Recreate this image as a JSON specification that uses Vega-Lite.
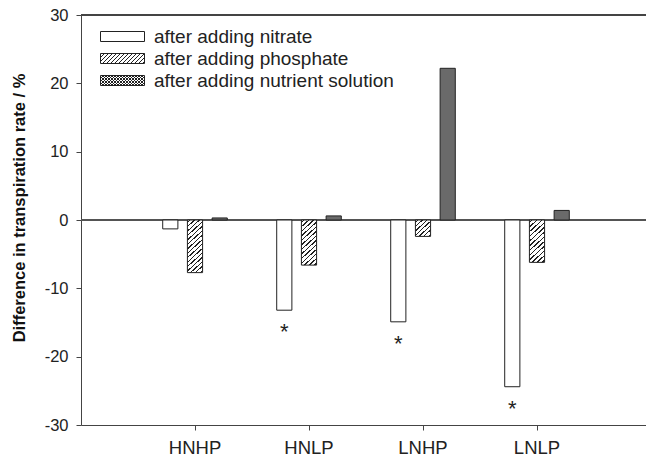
{
  "$schema": "https://vega.github.io/schema/vega-lite/v6.json",
  "width": 565,
  "height": 410,
  "autosize": {"type": "none"},
  "padding": {"left": 81, "top": 15, "right": 0, "bottom": 35},
  "background": "white",
  "config": {"font": "Liberation Sans", "view": {"stroke": null}},
  "data": {
    "values": [
      {"group": "HNHP", "treatment": "after adding nitrate", "value": -1.3, "sig": ""},
      {"group": "HNHP", "treatment": "after adding phosphate", "value": -7.7, "sig": ""},
      {"group": "HNHP", "treatment": "after adding nutrient solution", "value": 0.3, "sig": ""},
      {"group": "HNLP", "treatment": "after adding nitrate", "value": -13.2, "sig": "*"},
      {"group": "HNLP", "treatment": "after adding phosphate", "value": -6.6, "sig": ""},
      {"group": "HNLP", "treatment": "after adding nutrient solution", "value": 0.6, "sig": ""},
      {"group": "LNHP", "treatment": "after adding nitrate", "value": -14.9, "sig": "*"},
      {"group": "LNHP", "treatment": "after adding phosphate", "value": -2.4, "sig": ""},
      {"group": "LNHP", "treatment": "after adding nutrient solution", "value": 22.2, "sig": ""},
      {"group": "LNLP", "treatment": "after adding nitrate", "value": -24.4, "sig": "*"},
      {"group": "LNLP", "treatment": "after adding phosphate", "value": -6.2, "sig": ""},
      {"group": "LNLP", "treatment": "after adding nutrient solution", "value": 1.4, "sig": ""}
    ]
  },
  "layer": [
    {
      "mark": {"type": "rule", "color": "#555", "strokeWidth": 1},
      "encoding": {"y": {"datum": 0, "type": "quantitative"}}
    },
    {
      "mark": {"type": "rule", "color": "#444", "strokeWidth": 1},
      "encoding": {"y": {"datum": 30, "type": "quantitative"}}
    },
    {
      "mark": {"type": "bar", "stroke": "#222", "strokeWidth": 1},
      "encoding": {
        "x": {
          "field": "group", "type": "nominal",
          "sort": ["HNHP", "HNLP", "LNHP", "LNLP"],
          "scale": {"range": [0, 570], "paddingInner": 0, "paddingOuter": 0.5},
          "axis": {"title": null, "labelAngle": 0, "labelFontSize": 18.5, "labelColor": "#222", "labelPadding": 8, "tickSize": 5, "tickColor": "#444", "domainColor": "#444"}
        },
        "xOffset": {
          "field": "treatment", "type": "nominal",
          "sort": ["after adding nitrate", "after adding phosphate", "after adding nutrient solution"],
          "scale": {"paddingInner": 0.386, "paddingOuter": 1.193}
        },
        "y": {
          "field": "value", "type": "quantitative",
          "scale": {"domain": [-30, 30], "nice": false},
          "axis": {
            "values": [-30, -20, -10, 0, 10, 20, 30], "grid": false,
            "labelExpr": "'' + datum.value",
            "tickSize": 5, "tickColor": "#444", "domainColor": "#444",
            "labelFontSize": 16.5, "labelColor": "#222", "labelPadding": 8,
            "title": "Difference in transpiration rate / %",
            "titleFontSize": 16.5, "titleFontWeight": "bold", "titleColor": "#111",
            "titleX": -61.5, "titleY": 192.5, "titleAngle": -90, "titleBaseline": "middle", "titleAlign": "center"
          }
        },
        "fill": {
          "condition": [
            {"test": "datum.treatment == 'after adding nitrate'", "value": "#ffffff"},
            {"test": "datum.treatment == 'after adding nutrient solution'", "value": "#6a6a6a"},
            {"test": "datum.group == 'HNHP'", "value": {"gradient": "linear", "x1": 0, "y1": 0, "x2": 0.3146, "y2": 1.1824, "stops": [
              {"offset": 0.02333, "color": "#fff"}, {"offset": 0.02333, "color": "#222"}, {"offset": 0.04333, "color": "#222"}, {"offset": 0.04333, "color": "#fff"},
              {"offset": 0.09, "color": "#fff"}, {"offset": 0.09, "color": "#222"}, {"offset": 0.11, "color": "#222"}, {"offset": 0.11, "color": "#fff"},
              {"offset": 0.15667, "color": "#fff"}, {"offset": 0.15667, "color": "#222"}, {"offset": 0.17667, "color": "#222"}, {"offset": 0.17667, "color": "#fff"},
              {"offset": 0.22333, "color": "#fff"}, {"offset": 0.22333, "color": "#222"}, {"offset": 0.24333, "color": "#222"}, {"offset": 0.24333, "color": "#fff"},
              {"offset": 0.29, "color": "#fff"}, {"offset": 0.29, "color": "#222"}, {"offset": 0.31, "color": "#222"}, {"offset": 0.31, "color": "#fff"},
              {"offset": 0.35667, "color": "#fff"}, {"offset": 0.35667, "color": "#222"}, {"offset": 0.37667, "color": "#222"}, {"offset": 0.37667, "color": "#fff"},
              {"offset": 0.42333, "color": "#fff"}, {"offset": 0.42333, "color": "#222"}, {"offset": 0.44333, "color": "#222"}, {"offset": 0.44333, "color": "#fff"},
              {"offset": 0.49, "color": "#fff"}, {"offset": 0.49, "color": "#222"}, {"offset": 0.51, "color": "#222"}, {"offset": 0.51, "color": "#fff"},
              {"offset": 0.55667, "color": "#fff"}, {"offset": 0.55667, "color": "#222"}, {"offset": 0.57667, "color": "#222"}, {"offset": 0.57667, "color": "#fff"},
              {"offset": 0.62333, "color": "#fff"}, {"offset": 0.62333, "color": "#222"}, {"offset": 0.64333, "color": "#222"}, {"offset": 0.64333, "color": "#fff"},
              {"offset": 0.69, "color": "#fff"}, {"offset": 0.69, "color": "#222"}, {"offset": 0.71, "color": "#222"}, {"offset": 0.71, "color": "#fff"},
              {"offset": 0.75667, "color": "#fff"}, {"offset": 0.75667, "color": "#222"}, {"offset": 0.77667, "color": "#222"}, {"offset": 0.77667, "color": "#fff"},
              {"offset": 0.82333, "color": "#fff"}, {"offset": 0.82333, "color": "#222"}, {"offset": 0.84333, "color": "#222"}, {"offset": 0.84333, "color": "#fff"},
              {"offset": 0.89, "color": "#fff"}, {"offset": 0.89, "color": "#222"}, {"offset": 0.91, "color": "#222"}, {"offset": 0.91, "color": "#fff"},
              {"offset": 0.95667, "color": "#fff"}, {"offset": 0.95667, "color": "#222"}, {"offset": 0.97667, "color": "#222"}, {"offset": 0.97667, "color": "#fff"}
            ]}},
            {"test": "datum.group == 'HNLP'", "value": {"gradient": "linear", "x1": 0, "y1": 0, "x2": 0.371, "y2": 1.1952, "stops": [
              {"offset": 0.02692, "color": "#fff"}, {"offset": 0.02692, "color": "#222"}, {"offset": 0.05, "color": "#222"}, {"offset": 0.05, "color": "#fff"},
              {"offset": 0.10385, "color": "#fff"}, {"offset": 0.10385, "color": "#222"}, {"offset": 0.12692, "color": "#222"}, {"offset": 0.12692, "color": "#fff"},
              {"offset": 0.18077, "color": "#fff"}, {"offset": 0.18077, "color": "#222"}, {"offset": 0.20385, "color": "#222"}, {"offset": 0.20385, "color": "#fff"},
              {"offset": 0.25769, "color": "#fff"}, {"offset": 0.25769, "color": "#222"}, {"offset": 0.28077, "color": "#222"}, {"offset": 0.28077, "color": "#fff"},
              {"offset": 0.33462, "color": "#fff"}, {"offset": 0.33462, "color": "#222"}, {"offset": 0.35769, "color": "#222"}, {"offset": 0.35769, "color": "#fff"},
              {"offset": 0.41154, "color": "#fff"}, {"offset": 0.41154, "color": "#222"}, {"offset": 0.43462, "color": "#222"}, {"offset": 0.43462, "color": "#fff"},
              {"offset": 0.48846, "color": "#fff"}, {"offset": 0.48846, "color": "#222"}, {"offset": 0.51154, "color": "#222"}, {"offset": 0.51154, "color": "#fff"},
              {"offset": 0.56538, "color": "#fff"}, {"offset": 0.56538, "color": "#222"}, {"offset": 0.58846, "color": "#222"}, {"offset": 0.58846, "color": "#fff"},
              {"offset": 0.64231, "color": "#fff"}, {"offset": 0.64231, "color": "#222"}, {"offset": 0.66538, "color": "#222"}, {"offset": 0.66538, "color": "#fff"},
              {"offset": 0.71923, "color": "#fff"}, {"offset": 0.71923, "color": "#222"}, {"offset": 0.74231, "color": "#222"}, {"offset": 0.74231, "color": "#fff"},
              {"offset": 0.79615, "color": "#fff"}, {"offset": 0.79615, "color": "#222"}, {"offset": 0.81923, "color": "#222"}, {"offset": 0.81923, "color": "#fff"},
              {"offset": 0.87308, "color": "#fff"}, {"offset": 0.87308, "color": "#222"}, {"offset": 0.89615, "color": "#222"}, {"offset": 0.89615, "color": "#fff"},
              {"offset": 0.95, "color": "#fff"}, {"offset": 0.95, "color": "#222"}, {"offset": 0.97308, "color": "#222"}, {"offset": 0.97308, "color": "#fff"}
            ]}},
            {"test": "datum.group == 'LNHP'", "value": {"gradient": "linear", "x1": 0, "y1": 0, "x2": 0.9153, "y2": 1.0723, "stops": [
              {"offset": 0.05, "color": "#fff"}, {"offset": 0.05, "color": "#222"}, {"offset": 0.09286, "color": "#222"}, {"offset": 0.09286, "color": "#fff"},
              {"offset": 0.19286, "color": "#fff"}, {"offset": 0.19286, "color": "#222"}, {"offset": 0.23571, "color": "#222"}, {"offset": 0.23571, "color": "#fff"},
              {"offset": 0.33571, "color": "#fff"}, {"offset": 0.33571, "color": "#222"}, {"offset": 0.37857, "color": "#222"}, {"offset": 0.37857, "color": "#fff"},
              {"offset": 0.47857, "color": "#fff"}, {"offset": 0.47857, "color": "#222"}, {"offset": 0.52143, "color": "#222"}, {"offset": 0.52143, "color": "#fff"},
              {"offset": 0.62143, "color": "#fff"}, {"offset": 0.62143, "color": "#222"}, {"offset": 0.66429, "color": "#222"}, {"offset": 0.66429, "color": "#fff"},
              {"offset": 0.76429, "color": "#fff"}, {"offset": 0.76429, "color": "#222"}, {"offset": 0.80714, "color": "#222"}, {"offset": 0.80714, "color": "#fff"},
              {"offset": 0.90714, "color": "#fff"}, {"offset": 0.90714, "color": "#222"}, {"offset": 0.95, "color": "#222"}, {"offset": 0.95, "color": "#fff"}
            ]}}
          ],
          "value": {"gradient": "linear", "x1": 0, "y1": 0, "x2": 0.3963, "y2": 1.1995, "stops": [
            {"offset": 0.02917, "color": "#fff"}, {"offset": 0.02917, "color": "#222"}, {"offset": 0.05417, "color": "#222"}, {"offset": 0.05417, "color": "#fff"},
            {"offset": 0.1125, "color": "#fff"}, {"offset": 0.1125, "color": "#222"}, {"offset": 0.1375, "color": "#222"}, {"offset": 0.1375, "color": "#fff"},
            {"offset": 0.19583, "color": "#fff"}, {"offset": 0.19583, "color": "#222"}, {"offset": 0.22083, "color": "#222"}, {"offset": 0.22083, "color": "#fff"},
            {"offset": 0.27917, "color": "#fff"}, {"offset": 0.27917, "color": "#222"}, {"offset": 0.30417, "color": "#222"}, {"offset": 0.30417, "color": "#fff"},
            {"offset": 0.3625, "color": "#fff"}, {"offset": 0.3625, "color": "#222"}, {"offset": 0.3875, "color": "#222"}, {"offset": 0.3875, "color": "#fff"},
            {"offset": 0.44583, "color": "#fff"}, {"offset": 0.44583, "color": "#222"}, {"offset": 0.47083, "color": "#222"}, {"offset": 0.47083, "color": "#fff"},
            {"offset": 0.52917, "color": "#fff"}, {"offset": 0.52917, "color": "#222"}, {"offset": 0.55417, "color": "#222"}, {"offset": 0.55417, "color": "#fff"},
            {"offset": 0.6125, "color": "#fff"}, {"offset": 0.6125, "color": "#222"}, {"offset": 0.6375, "color": "#222"}, {"offset": 0.6375, "color": "#fff"},
            {"offset": 0.69583, "color": "#fff"}, {"offset": 0.69583, "color": "#222"}, {"offset": 0.72083, "color": "#222"}, {"offset": 0.72083, "color": "#fff"},
            {"offset": 0.77917, "color": "#fff"}, {"offset": 0.77917, "color": "#222"}, {"offset": 0.80417, "color": "#222"}, {"offset": 0.80417, "color": "#fff"},
            {"offset": 0.8625, "color": "#fff"}, {"offset": 0.8625, "color": "#222"}, {"offset": 0.8875, "color": "#222"}, {"offset": 0.8875, "color": "#fff"},
            {"offset": 0.94583, "color": "#fff"}, {"offset": 0.94583, "color": "#222"}, {"offset": 0.97083, "color": "#222"}, {"offset": 0.97083, "color": "#fff"}
          ]}
        }
      }
    },
    {
      "mark": {"type": "point", "opacity": 0},
      "encoding": {
        "x": {"field": "group", "type": "nominal", "sort": ["HNHP", "HNLP", "LNHP", "LNLP"]},
        "xOffset": {"field": "treatment", "type": "nominal", "sort": ["after adding nitrate", "after adding phosphate", "after adding nutrient solution"]},
        "y": {"field": "value", "type": "quantitative"},
        "shape": {
          "field": "treatment", "type": "nominal",
          "scale": {
            "domain": ["after adding nitrate", "after adding phosphate", "after adding nutrient solution"],
            "range": [
              "M-4.4,-1H4.4V1H-4.4Z",
              "M-4.4,-1H4.4V1H-4.4ZM-4.4,-0.2L-3.6,-1M-4.4,0.6L-2.8,-1M-4,1L-2,-1M-3.2,1L-1.2,-1M-2.4,1L-0.4,-1M-1.6,1L0.4,-1M-0.8,1L1.2,-1M0,1L2,-1M0.8,1L2.8,-1M1.6,1L3.6,-1M2.4,1L4.4,-1M3.2,1L4.4,-0.2M4,1L4.4,0.6",
              "M-4.4,-1H4.4V1H-4.4ZM-4.4,-0.4L-3.8,-1M-4.4,0.2L-3.2,-1M-4.4,0.8L-2.6,-1M-4,1L-2,-1M-3.4,1L-1.4,-1M-2.8,1L-0.8,-1M-2.2,1L-0.2,-1M-1.6,1L0.4,-1M-1,1L1,-1M-0.4,1L1.6,-1M0.2,1L2.2,-1M0.8,1L2.8,-1M1.4,1L3.4,-1M2,1L4,-1M2.6,1L4.4,-0.8M3.2,1L4.4,-0.2M3.8,1L4.4,0.4M4.4,-0.4L3.8,-1M4.4,0.2L3.2,-1M4.4,0.8L2.6,-1M4,1L2,-1M3.4,1L1.4,-1M2.8,1L0.8,-1M2.2,1L0.2,-1M1.6,1L-0.4,-1M1,1L-1,-1M0.4,1L-1.6,-1M-0.2,1L-2.2,-1M-0.8,1L-2.8,-1M-1.4,1L-3.4,-1M-2,1L-4,-1M-2.6,1L-4.4,-0.8M-3.2,1L-4.4,-0.2M-3.8,1L-4.4,0.4"
            ]
          },
          "legend": {
            "title": null, "orient": "none", "legendX": 32, "legendY": 12, "direction": "vertical",
            "symbolSize": 100, "symbolStrokeWidth": 1, "symbolFillColor": "white", "symbolStrokeColor": "#222",
            "labelFontSize": 19, "labelColor": "#222", "labelFont": "Liberation Sans", "labelOffset": 22, "labelLimit": 0,
            "rowPadding": 2, "padding": 0,
            "encode": {"symbols": {"update": {"opacity": {"value": 1}, "fill": {"value": "white"}, "stroke": {"value": "#222"}, "strokeWidth": {"value": 1}}}}
          }
        }
      }
    },
    {
      "mark": {"type": "text", "dy": 22, "fontSize": 22, "font": "Liberation Sans", "baseline": "middle", "color": "#222"},
      "encoding": {
        "x": {"field": "group", "type": "nominal", "sort": ["HNHP", "HNLP", "LNHP", "LNLP"]},
        "xOffset": {"field": "treatment", "type": "nominal", "sort": ["after adding nitrate", "after adding phosphate", "after adding nutrient solution"]},
        "y": {"field": "value", "type": "quantitative"},
        "text": {"field": "sig"}
      }
    }
  ]
}
